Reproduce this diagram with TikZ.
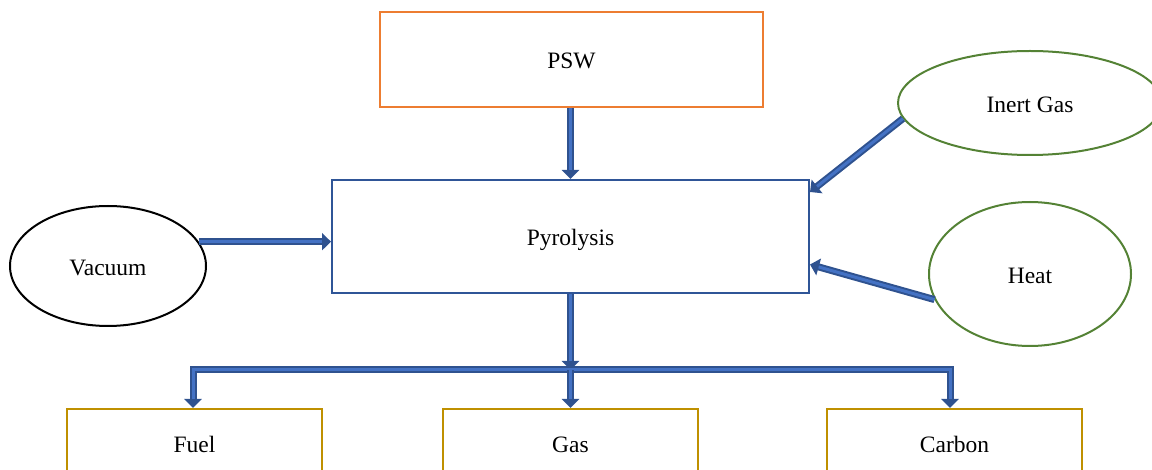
\documentclass[tikz,border=0pt]{standalone}
\usepackage{fontspec}
\setmainfont{Liberation Serif}
\usetikzlibrary{shapes.geometric,arrows.meta}
\definecolor{orangeb}{HTML}{ED7D31}
\definecolor{blueb}{HTML}{2F5597}
\definecolor{greenb}{HTML}{548235}
\definecolor{goldb}{HTML}{BF9000}
\definecolor{pipedark}{HTML}{2F528F}
\definecolor{pipelight}{HTML}{4472C4}
\tikzset{
  lbl/.style={font=\fontsize{23.5}{26}\selectfont, text height=24pt, text depth=5pt},
  box/.style={draw, line width=2pt, rectangle, inner sep=0pt, lbl},
  oval/.style={draw, line width=2pt, ellipse, inner sep=0pt, lbl},
  pipeo/.style={draw=pipedark, line width=7pt, -{Triangle[width=17pt,length=9pt]}, color=pipedark},
  pipeoo/.style={draw=pipedark, line width=7pt, {Triangle[width=17pt,length=9pt]}-{Triangle[width=17pt,length=9pt]}, color=pipedark},
  pipei/.style={draw=pipelight, line width=3pt, shorten >=9pt},
  pipeii/.style={draw=pipelight, line width=3pt, shorten >=9pt, shorten <=9pt},
}
\begin{document}
\begin{tikzpicture}[x=1pt,y=-1pt]
\useasboundingbox (0,0) rectangle (1152,470);
\node[box, draw=orangeb, minimum width=383pt, minimum height=95pt] (psw) at (571.5,59.5) {PSW};
\node[box, draw=blueb, minimum width=477pt, minimum height=113pt] (pyr) at (570.5,236.5) {Pyrolysis};
\node[oval, minimum width=196pt, minimum height=120pt] (vac) at (108,266) {Vacuum};
\node[oval, draw=greenb, minimum width=264pt, minimum height=104pt] (inert) at (1030,103) {Inert Gas};
\node[oval, draw=greenb, minimum width=202pt, minimum height=144pt] (heat) at (1030,274) {Heat};
\node[box, draw=goldb, minimum width=255pt, minimum height=68pt] (fuel) at (194.5,443) {Fuel};
\node[box, draw=goldb, minimum width=255pt, minimum height=68pt] (gas) at (570.5,443) {Gas};
\node[box, draw=goldb, minimum width=255pt, minimum height=68pt] (carbon) at (954.5,443) {Carbon};
\coordinate (bar) at (570.5,370);
\coordinate (fin) at ([xshift=-1.5pt]fuel.north);
\coordinate (cin) at ([xshift=-4.5pt]carbon.north);
% PSW -> Pyrolysis
\draw[pipeo] (pyr.north |- psw.south) -- (pyr.north);
\draw[pipei] (pyr.north |- psw.south) -- (pyr.north);
% Vacuum -> Pyrolysis
\draw[pipeo] (vac.15) -- (vac.15 -| pyr.west);
\draw[pipei] (vac.15) -- (vac.15 -| pyr.west);
% Inert Gas -> Pyrolysis
\draw[pipeo] (inert.187) -- ([yshift=-13pt]pyr.north east);
\draw[pipei] (inert.187) -- ([yshift=-13pt]pyr.north east);
% Heat -> Pyrolysis
\draw[pipeo] (heat.195) -- ([yshift=-28pt]pyr.east);
\draw[pipei] (heat.195) -- ([yshift=-28pt]pyr.east);
% Pyrolysis -> bar
\draw[pipeo] (pyr.south) -- (bar);
\draw[pipei] (pyr.south) -- (bar);
% bar -> outputs
\draw[pipeoo] (fin) |- (bar) -| (cin);
\draw[pipeii] (fin) |- (bar) -| (cin);
\draw[pipeo] (bar) -- (gas.north);
\draw[pipei] (bar) -- (gas.north);
\end{tikzpicture}
\end{document}
